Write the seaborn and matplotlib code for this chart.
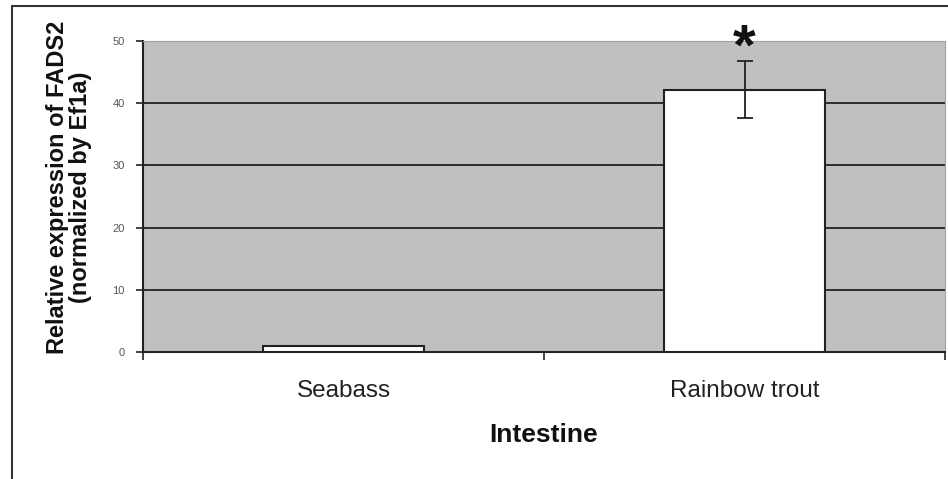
import matplotlib
matplotlib.use("Agg")
import matplotlib.pyplot as plt
import seaborn as sns
import pandas as pd
from matplotlib.lines import Line2D

species = ["Seabass", "Rainbow trout"]
expression = [1.0, 42.2]
errors = [0.0, 4.6]
significance = ["", "*"]
y_ticks = [0, 10, 20, 30, 40, 50]

df = pd.DataFrame({"Species": species, "Expression": expression})

sns.set_theme(style="white")
plt.rcParams["font.family"] = ["Liberation Sans", "DejaVu Sans"]

fig = plt.figure(figsize=(9.48, 4.79), dpi=100)
ax = fig.add_axes([143 / 948, 1 - 352 / 479, 802 / 948, 311 / 479])

sns.barplot(data=df, x="Species", y="Expression", color="white",
            edgecolor="#222222", linewidth=1.5, width=0.4, saturation=1,
            errorbar=None, ax=ax, zorder=3)
ax.errorbar(range(len(species)), expression, yerr=errors, fmt="none",
            ecolor="#222222", elinewidth=1.3, capsize=6, capthick=1.3, zorder=4)
for i, (v, e, s) in enumerate(zip(expression, errors, significance)):
    if s:
        ax.text(i, v + e - 0.6, s, ha="center", va="baseline", fontsize=42,
                fontweight="bold", color="#111111", zorder=5, clip_on=False)

ax.set_facecolor("#c0c0c0")
ax.set_ylim(0, 50)
ax.set_xlim(-0.5, 1.5)
ax.set_yticks(y_ticks)
ax.set_yticklabels([str(t) for t in y_ticks], fontsize=8, color="#555555")
for t in y_ticks[1:-1]:
    ax.axhline(t, color="#222222", linewidth=1.3, zorder=1)

ax.set_xticks([-0.5, 0.5, 1.5], minor=False)
ax.set_xticklabels([])
ax.set_xticks([0, 1], minor=True)
ax.set_xticklabels(species, minor=True, fontsize=17.5, color="#222222")
ax.tick_params(axis="x", which="major", bottom=True, direction="out", length=6,
               width=1.2, color="#222222")
ax.tick_params(axis="x", which="minor", bottom=True, length=0, pad=20)
ax.tick_params(axis="y", left=True, direction="out", length=5, width=1.2,
               color="#222222", pad=8)

ax.set_xlabel("Intestine", fontsize=19, fontweight="bold", color="#111111", labelpad=15)
ax.set_ylabel("Relative expression of FADS2\n(normalized by Ef1a)", fontsize=17,
              fontweight="bold", color="#111111", linespacing=1.0)
ax.yaxis.set_label_coords(-0.064, 0.53)

for side in ["top", "right"]:
    ax.spines[side].set_color("#a0a0a0")
    ax.spines[side].set_linewidth(0.8)
for side in ["left", "bottom"]:
    ax.spines[side].set_color("#222222")
    ax.spines[side].set_linewidth(1.5)

# outer chart frame
fig.add_artist(Line2D([12 / 948, 1.0], [1 - 6 / 479, 1 - 6 / 479], color="#333333", linewidth=1.5))
fig.add_artist(Line2D([12 / 948, 12 / 948], [0, 1 - 6 / 479], color="#333333", linewidth=1.5))

fig.savefig("out.png", dpi=100)
